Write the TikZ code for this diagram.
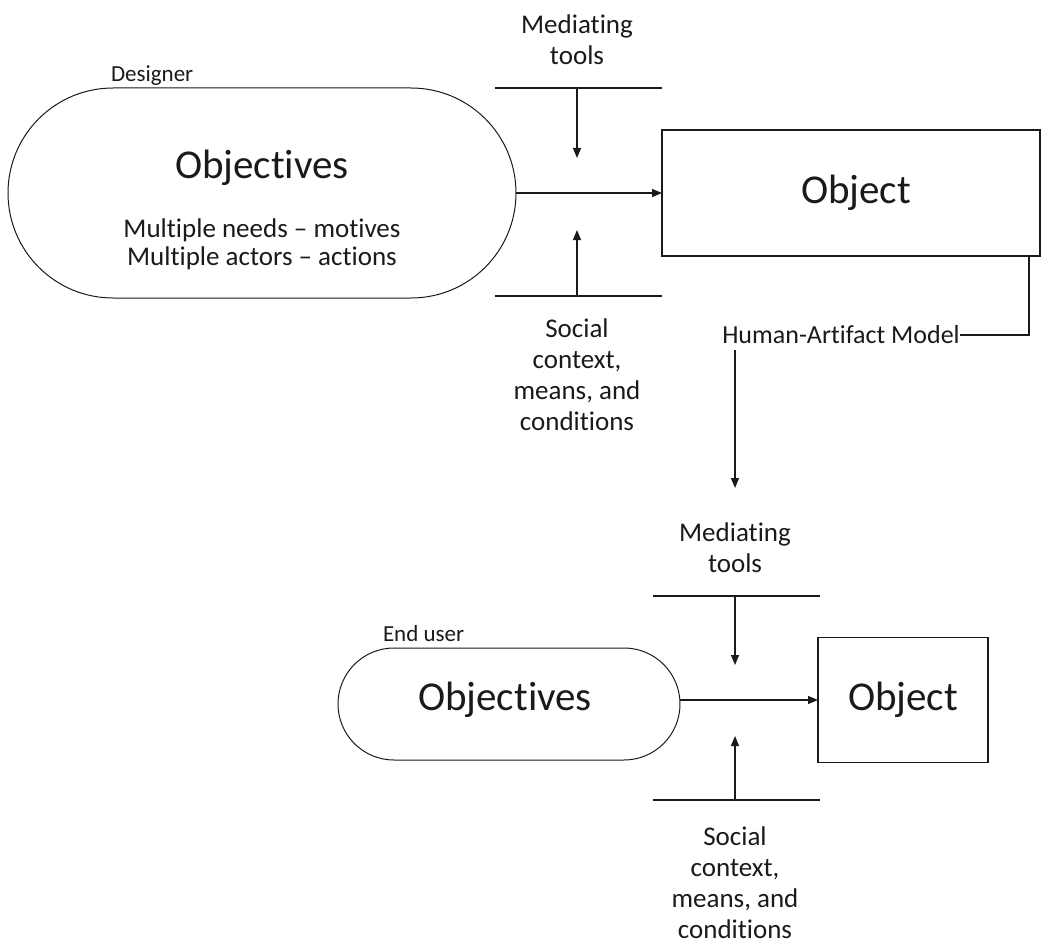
\documentclass[tikz,border=0pt]{standalone}
\usepackage{fontspec}
\setmainfont{Carlito}[Ligatures=NoCommon]
\usetikzlibrary{shapes.misc,arrows.meta}
\definecolor{ink}{HTML}{1A1A1A}
\begin{document}
\begin{tikzpicture}[x=1pt,y=-1pt,
  line width=1.2pt, draw=ink, text=ink,
  every node/.style={inner sep=0pt, outer sep=0pt},
  stadium/.style={draw, rounded rectangle, line width=1pt},
  objbox/.style={draw, rectangle, line width=1.2pt},
  bigtxt/.style={font=\fontsize{41}{46}\selectfont},
  midtxt/.style={font=\fontsize{27}{30}\selectfont},
  labtxt/.style={font=\fontsize{27}{31}\selectfont, align=center},
  smalltxt/.style={font=\fontsize{23}{26}\selectfont},
  arr/.style={-{Triangle[length=10pt,width=8pt]}},
  bar/.style={line width=1.2pt}]
\useasboundingbox (0,0) rectangle (1042,947);

% ---------- designer activity ----------
\node[smalltxt, anchor=base west] (designer) at (111,82) {Designer};
\node[stadium, minimum width=508pt, minimum height=210pt] (obj1) at (262,193) {};
\node[bigtxt] (objt1) at (262,168) {Objectives};
\node[midtxt] (need1) at (262,230) {Multiple needs -- motives};
\node[midtxt] (act1) at (262,258) {Multiple actors -- actions};
\node[objbox, minimum width=378pt, minimum height=126pt] (ob1) at (851,193) {};
\node[bigtxt] (obt1) at (856,193) {Object};

\node[labtxt] (med1) at (577,40) {Mediating\\tools};
\coordinate (m1l) at (495,88);
\coordinate (m1r) at (662,88);
\coordinate (m1c) at (577,88);
\coordinate (m1t) at (577,158);
\draw[bar] (m1l) -- (m1r);
\draw[arr] (m1c) -- (m1t);

\coordinate (s1l) at (495,296);
\coordinate (s1r) at (662,296);
\coordinate (s1c) at (577,296);
\coordinate (s1t) at (577,230);
\draw[bar] (s1l) -- (s1r);
\draw[arr] (s1c) -- (s1t);
\node[labtxt] (soc1) at (577,375) {Social\\context,\\means, and\\conditions};

\draw[arr] (obj1.east) -- (ob1.west);

% ---------- human-artifact model link ----------
\node[smalltxt, font=\fontsize{26}{28}\selectfont] (ham) at (841,335) {Human-Artifact Model};
\coordinate (hamr) at (1029,335);
\coordinate (hamtop) at (1029,256);
\draw[line width=1.2pt] (ham.east) -- (hamr) -- (hamtop);
\coordinate (hd1) at (735,350);
\coordinate (hd2) at (735,488);
\draw[arr] (hd1) -- (hd2);

% ---------- end user activity ----------
\node[smalltxt, anchor=base west] (enduser) at (383,641) {End user};
\node[stadium, minimum width=342pt, minimum height=112pt] (obj2) at (509,704) {};
\node[bigtxt] (objt2) at (505,700) {Objectives};
\node[objbox, minimum width=170pt, minimum height=125pt] (ob2) at (903,700) {};
\node[bigtxt] (obt2) at (903,700) {Object};

\node[labtxt] (med2) at (735,548) {Mediating\\tools};
\coordinate (m2l) at (653,596);
\coordinate (m2r) at (820,596);
\coordinate (m2c) at (735,596);
\coordinate (m2t) at (735,665);
\draw[bar] (m2l) -- (m2r);
\draw[arr] (m2c) -- (m2t);

\coordinate (s2l) at (653,800);
\coordinate (s2r) at (820,800);
\coordinate (s2c) at (735,800);
\coordinate (s2t) at (735,736);
\draw[bar] (s2l) -- (s2r);
\draw[arr] (s2c) -- (s2t);
\node[labtxt] (soc2) at (735,883) {Social\\context,\\means, and\\conditions};

\draw[arr] (obj2.east |- ob2.west) -- (ob2.west);
\end{tikzpicture}
\end{document}
